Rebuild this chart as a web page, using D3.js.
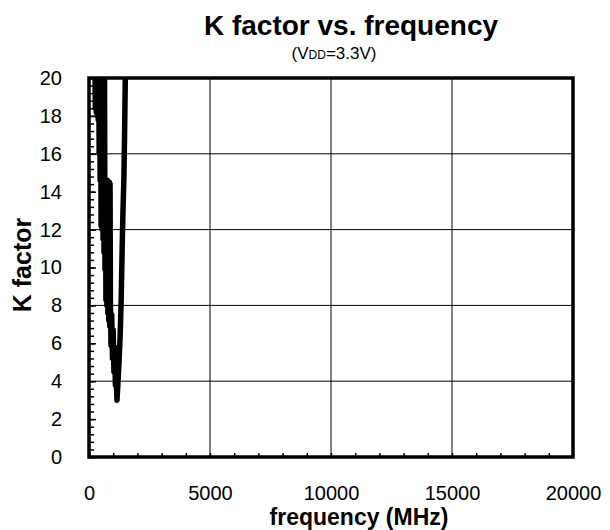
<!DOCTYPE html>
<html>
<head>
<meta charset="utf-8">
<script src="https://cdn.jsdelivr.net/npm/d3@7"></script>
<style>
  body { margin: 0; background: #fff; }
  text { font-family: "Liberation Sans", Arial, sans-serif; fill: #000; }
</style>
</head>
<body>
<svg id="chart" width="610" height="530"></svg>
<script>
// Measured K factor (stability factor) vs frequency, VDD = 3.3 V
const freqMHz = [240, 260, 280, 300, 320, 340, 360, 380, 400, 420, 440, 460, 480, 500, 520, 540,
                 560, 580, 600, 620, 640, 660, 680, 700, 720, 740, 760, 780, 800, 820, 840, 860,
                 870, 885, 910, 940, 970, 1000, 1030, 1060, 1090, 1120, 1157, 1200, 1240, 1290,
                 1330, 1370, 1400, 1440, 1470, 1500, 1520];
const kFactor = [22, 18.4, 22, 18.2, 22, 18.0, 22, 17.8, 22, 16.0, 22, 14.6, 22, 12.2, 22, 12.0,
                 22, 11.5, 22, 10.8, 21.5, 9.9, 14.6, 8.3, 14.6, 8.0, 14.6, 7.6, 14.5, 7.2, 14.5, 6.9,
                 14.4, 8.2, 5.9, 7.5, 5.2, 6.7, 4.5, 5.8, 3.8, 4.4, 3.0, 4.0, 5.0, 6.5,
                 8.3, 11.0, 12.8, 14.6, 17.0, 20.0, 22.0];

const xTickValues = [0, 5000, 10000, 15000, 20000];
const xMinorTicks = d3.range(0, 20001, 1000);
const xGridValues = [5000, 10000, 15000];
const yTickValues = d3.range(0, 21, 2);
const yMinorTicks = d3.range(0, 20.001, 0.4);
const yGridValues = [4, 8, 12, 16];

const titleText = "K factor vs. frequency";
const xTitle = "frequency (MHz)";
const yTitle = "K factor";

const svg = d3.select("#chart");
const plotLeft = 89, plotRight = 573, plotTop = 78, plotBottom = 457;

const x = d3.scaleLinear().domain([0, 20000]).range([plotLeft, plotRight]);
const y = d3.scaleLinear().domain([0, 20]).range([plotBottom, plotTop]);

// grid lines
svg.append("g").selectAll("line").data(yGridValues).join("line")
  .attr("x1", plotLeft).attr("x2", plotRight)
  .attr("y1", d => y(d)).attr("y2", d => y(d))
  .attr("stroke", "#000").attr("stroke-width", 1);
svg.append("g").selectAll("line").data(xGridValues).join("line")
  .attr("y1", plotTop).attr("y2", plotBottom)
  .attr("x1", d => x(d)).attr("x2", d => x(d))
  .attr("stroke", "#000").attr("stroke-width", 1);

// minor ticks (inside the plot)
svg.append("g").attr("transform", `translate(0,${plotBottom})`)
  .call(d3.axisBottom(x).tickValues(xMinorTicks).tickSize(-4).tickFormat(""))
  .call(g => g.select(".domain").remove())
  .call(g => g.selectAll("line").attr("stroke-width", 1.5));
svg.append("g").attr("transform", `translate(${plotLeft},0)`)
  .call(d3.axisLeft(y).tickValues(yMinorTicks).tickSize(-5).tickFormat(""))
  .call(g => g.select(".domain").remove())
  .call(g => g.selectAll("line").attr("stroke-width", 1.5));

// major ticks with labels
svg.append("g").attr("transform", `translate(0,${plotBottom})`)
  .call(d3.axisBottom(x).tickValues(xTickValues).tickSize(0).tickPadding(29).tickFormat(d3.format("d")))
  .call(g => g.select(".domain").remove())
  .call(g => g.selectAll("text").attr("font-size", 20).attr("font-family", "Liberation Sans, Arial, sans-serif"));
svg.append("g").attr("transform", `translate(${plotLeft},0)`)
  .call(d3.axisLeft(y).tickValues(yTickValues).tickSize(-7).tickPadding(27).tickFormat(d3.format("d")))
  .call(g => g.select(".domain").remove())
  .call(g => g.selectAll("line").attr("stroke-width", 1.5))
  .call(g => g.selectAll("text").attr("font-size", 20).attr("font-family", "Liberation Sans, Arial, sans-serif"));

// data line, clipped to the plot area
svg.append("clipPath").attr("id", "plotClip")
  .append("rect").attr("x", plotLeft).attr("y", plotTop)
  .attr("width", plotRight - plotLeft).attr("height", plotBottom - plotTop);

const line = d3.line().x((d, i) => x(freqMHz[i])).y(d => y(d));
svg.append("path")
  .datum(kFactor)
  .attr("clip-path", "url(#plotClip)")
  .attr("d", line)
  .attr("fill", "none")
  .attr("stroke", "#000")
  .attr("stroke-width", 5.5)
  .attr("stroke-linejoin", "round")
  .attr("stroke-linecap", "round");

// plot frame
svg.append("rect")
  .attr("x", plotLeft).attr("y", plotTop)
  .attr("width", plotRight - plotLeft).attr("height", plotBottom - plotTop)
  .attr("fill", "none").attr("stroke", "#000").attr("stroke-width", 3.5);

// titles
svg.append("text").attr("x", 351).attr("y", 35).attr("text-anchor", "middle")
  .attr("font-size", 28).attr("font-weight", "bold").text(titleText);

const sub = svg.append("text").attr("x", 334).attr("y", 59).attr("text-anchor", "middle").attr("font-size", 17);
sub.append("tspan").text("(V");
sub.append("tspan").attr("font-size", 12).text("DD");
sub.append("tspan").text("=3.3V)");

svg.append("text").attr("x", 359).attr("y", 525).attr("text-anchor", "middle")
  .attr("font-size", 23).attr("font-weight", "bold").text(xTitle);

svg.append("text").attr("transform", "translate(31,265) rotate(-90)").attr("text-anchor", "middle")
  .attr("font-size", 25).attr("font-weight", "bold").text(yTitle);
</script>
</body>
</html>
